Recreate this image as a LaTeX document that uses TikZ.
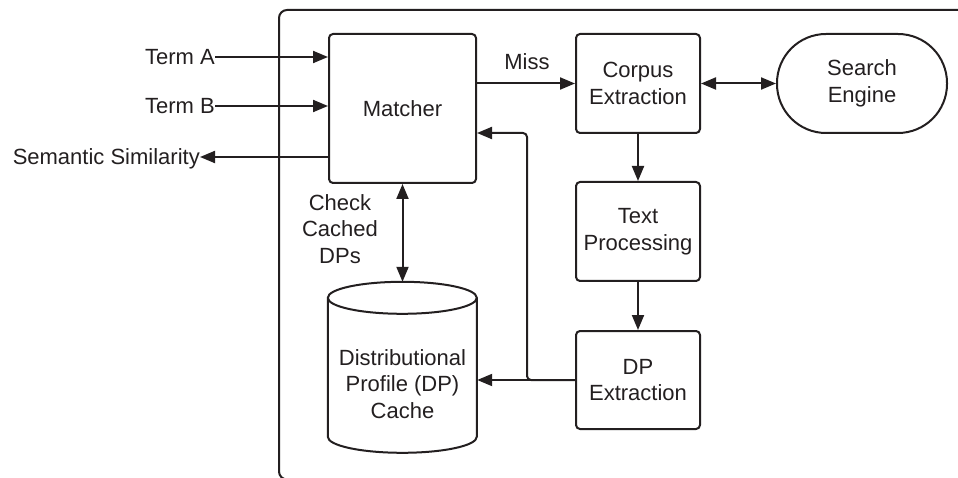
\documentclass[tikz,border=0pt]{standalone}
\usepackage{fontspec}
\setmainfont{Liberation Sans}
\usetikzlibrary{arrows.meta,positioning,calc}
\definecolor{ink}{RGB}{35,31,32}
\begin{document}
\begin{tikzpicture}[x=1pt,y=-1pt,
  every node/.style={font=\fontsize{22}{26.5}\selectfont, text=ink},
  box/.style={draw=ink, line width=2pt, rounded corners=4pt, align=center, inner sep=0pt},
  lbl/.style={inner sep=0pt, align=center},
  conn/.style={draw=ink, line width=2pt, -{Triangle[length=15pt,width=12pt]}},
  conn2/.style={draw=ink, line width=2pt, {Triangle[length=15pt,width=12pt]}-{Triangle[length=15pt,width=12pt]}}]
\useasboundingbox (0,0) rectangle (958,478);
\clip (0,0) rectangle (958,478);
% outer frame
\draw[draw=ink, line width=2pt, rounded corners=8pt] (970,10) -- (279,10) -- (279,479.5) -- (970,479.5);
% boxes
\node[box, minimum width=147pt, minimum height=149pt] (matcher) at (402.5,108.5) {Matcher};
\node[box, minimum width=124pt, minimum height=99pt] (corpus) at (638,83.5) {Corpus\\Extraction};
\node[box, rounded corners=49pt, minimum width=170pt, minimum height=99pt] (search) at (862,83.5) {Search\\Engine};
\node[box, minimum width=124pt, minimum height=99pt] (text) at (638,231.5) {Text\\Processing};
\node[box, minimum width=124pt, minimum height=98pt] (dpx) at (638,380) {DP\\Extraction};
% cylinder
\node[inner sep=0pt, minimum width=149pt, minimum height=171pt] (cache) at (402.5,367.5) {};
\draw[draw=ink, line width=2pt, fill=white]
  (cache.north west) ++(0,16) coordinate (ctl)
  (ctl) arc[start angle=180, end angle=360, x radius=74.5pt, y radius=16pt]
  arc[start angle=0, end angle=180, x radius=74.5pt, y radius=16pt]
  -- ++(0,139) arc[start angle=180, end angle=360, x radius=74.5pt, y radius=16pt] -- ++(0,-139);
\node[lbl] (cachetext) at (402.5,384) {Distributional\\Profile (DP)\\Cache};
% inputs / outputs
\node[lbl, anchor=east] (ta) at (215,57) {Term A};
\node[lbl, anchor=east] (tb) at (215,106) {Term B};
\node[lbl, anchor=east, text depth=0pt] (ss) at (200,157) {Semantic Similarity};
\draw[conn] (ta.east) -- (ta.east -| matcher.west);
\draw[conn] (tb.east) -- (tb.east -| matcher.west);
\draw[conn] (ss.east -| matcher.west) -- (ss.east);
% labels
\node[lbl] (miss) at (527,62) {Miss};
\node[lbl] (check) at (340,229) {Check\\Cached\\DPs};
% connectors
\draw[conn] (corpus.west -| matcher.east) -- (corpus.west);
\draw[conn2] (corpus.east) -- (search.west);
\draw[conn] (corpus.south) -- (text.north);
\draw[conn] (text.south) -- (dpx.north);
\draw[conn2] (matcher.south) -- (cache.north);
\draw[conn] (dpx.west) -- (dpx.west -| cache.east);
\coordinate (bend) at (527,133);
\draw[conn, rounded corners=4pt] (dpx.west) -| (bend) -- (bend -| matcher.east);
\end{tikzpicture}
\end{document}
